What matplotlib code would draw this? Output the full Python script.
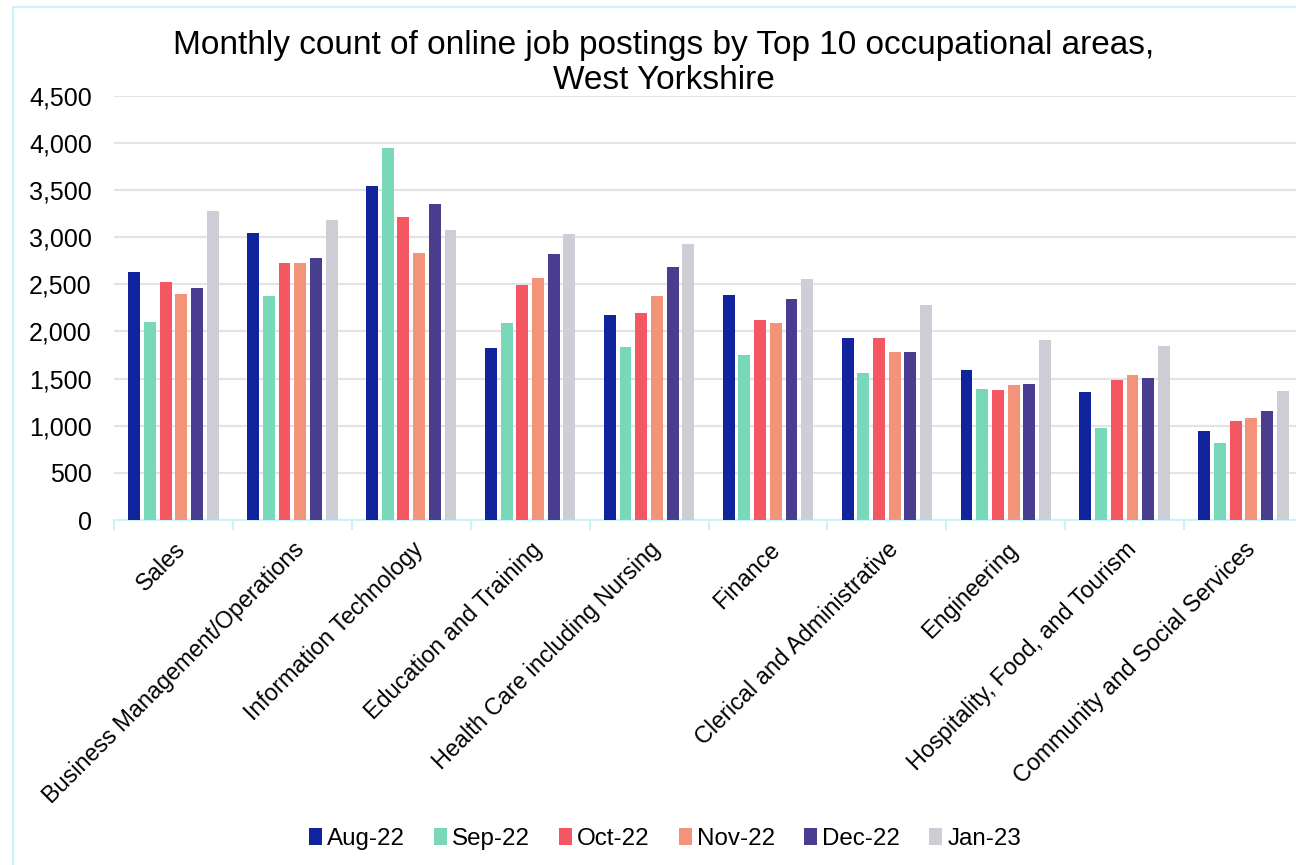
import numpy as np
import matplotlib
matplotlib.use('Agg')
import matplotlib.pyplot as plt
from matplotlib.patches import Rectangle

plt.rcParams['font.family'] = ['Liberation Sans', 'DejaVu Sans']

# Datos
categorias = ['Sales', 'Business Management/Operations', 'Information Technology',
              'Education and Training', 'Health Care including Nursing', 'Finance',
              'Clerical and Administrative', 'Engineering',
              'Hospitality, Food, and Tourism', 'Community and Social Services']
meses = ['Aug-22', 'Sep-22', 'Oct-22', 'Nov-22', 'Dec-22', 'Jan-23']

aug22 = [2630, 3040, 3546, 1821, 2171, 2390, 1934, 1591, 1354, 940]
sep22 = [2100, 2372, 3942, 2086, 1831, 1746, 1555, 1389, 979, 813]
oct22 = [2527, 2729, 3217, 2492, 2199, 2124, 1934, 1382, 1481, 1050]
nov22 = [2400, 2722, 2832, 2563, 2379, 2086, 1785, 1428, 1534, 1078]
dec22 = [2464, 2775, 3355, 2818, 2686, 2344, 1778, 1446, 1502, 1153]
jan23 = [3280, 3178, 3079, 3033, 2930, 2556, 2280, 1912, 1842, 1371]

series = [aug22, sep22, oct22, nov22, dec22, jan23]
colores = ['#12239E', '#79D8B8', '#F45762', '#F3937A', '#483D8F', '#CDCDD6']

fig = plt.figure(figsize=(12.96, 8.65), dpi=100)
W, H = 1296, 865
ax = fig.add_axes([114 / W, 1 - 520 / H, (1303 - 114) / W, (520 - 95.7) / H])

x = np.arange(len(categorias))
paso = 0.132
for i, (vals, col, mes) in enumerate(zip(series, colores, meses)):
    ax.bar(x + (i - 2.5) * paso, vals, width=0.1, color=col, label=mes, zorder=3)

ax.set_xlim(-0.5, len(categorias) - 0.5)
ax.set_ylim(0, 4500)
ax.set_yticks(np.arange(0, 4501, 500))
ax.set_yticklabels([f'{v:,}' for v in range(0, 4501, 500)])
ax.grid(axis='y', color='#E3E3E3', linewidth=1.5, zorder=0)
ax.set_xticks(x)
ax.set_xticks(np.arange(-0.5, len(categorias), 1), minor=True)
ax.set_xticklabels(categorias, rotation=45, ha='right', rotation_mode='anchor')
ax.tick_params(axis='x', which='major', length=0, pad=13, labelsize=16.8)
ax.tick_params(axis='x', which='minor', length=7, color='#C8F5F8', width=1.5)
ax.tick_params(axis='y', length=0, pad=16, labelsize=18)
for s in ['top', 'right', 'left']:
    ax.spines[s].set_visible(False)
ax.spines['bottom'].set_color('#C8F5F8')
ax.spines['bottom'].set_linewidth(1.5)

fig.text(664 / W, 1 - 63 / H,
         'Monthly count of online job postings by Top 10 occupational areas,\nWest Yorkshire',
         ha='center', va='center', fontsize=24, linespacing=1.17)

fig.legend(loc='center', bbox_to_anchor=(665 / W, 1 - 839 / H), ncol=6, frameon=False,
           fontsize=17.4, handlelength=0.55, handleheight=0.65, handletextpad=0.2,
           columnspacing=1.2)

# Borde
fig.patches.append(Rectangle((13 / W, -0.1), 1.2, 1 - 7 / H + 0.1, transform=fig.transFigure,
                             fill=False, edgecolor='#C8F5F8', linewidth=1.5))

fig.savefig('out.png', dpi=100)
